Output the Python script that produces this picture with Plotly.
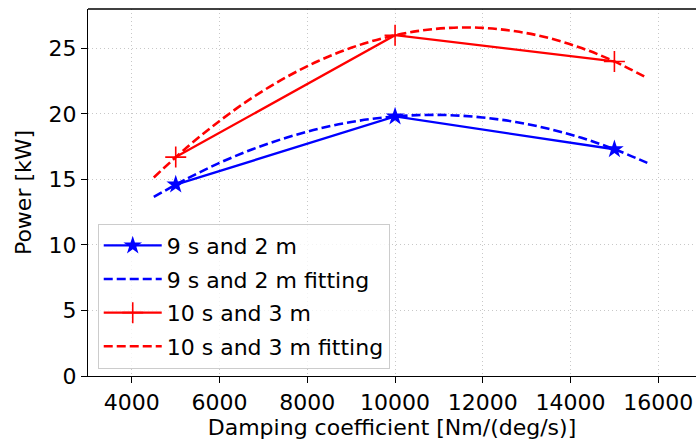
import plotly.graph_objects as go

# Measured points
damping = [5000, 10000, 15000]
power_9s2m = [14.6, 19.8, 17.3]
power_10s3m = [16.7, 26.0, 24.0]

# Fitted curves
fit_x = [4500, 5250, 6000, 6750, 7500, 8250, 9000, 9750, 10500, 11250,
         12000, 12750, 13500, 14250, 15000, 15750]
fit_9s2m = [13.66, 15.04, 16.26, 17.30, 18.16, 18.86, 19.38, 19.72, 19.90, 19.90,
            19.72, 19.38, 18.86, 18.17, 17.30, 16.26]
fit_10s3m = [15.15, 17.43, 19.46, 21.24, 22.76, 24.03, 25.04, 25.80, 26.31, 26.56,
             26.56, 26.30, 25.79, 25.02, 24.00, 22.73]

x_ticks = [4000, 6000, 8000, 10000, 12000, 14000, 16000]
x_tick_labels = ["4000", "6000", "8000", "10000", "12000", "14000", "16000"]
y_ticks = [0, 5, 10, 15, 20, 25]
y_tick_labels = ["0", "5", "10", "15", "20", "25"]

FONT = "DejaVu Sans"
FS = 22

fig = go.Figure()
fig.add_trace(go.Scatter(
    x=damping, y=power_9s2m, mode="lines+markers", name="9 s and 2 m",
    legendgroup="a",
    line=dict(color="blue", width=2.3),
    marker=dict(symbol="star", size=14, color="blue", line=dict(width=0)),
))
fig.add_trace(go.Scatter(
    x=fit_x, y=fit_9s2m, mode="lines", name="9 s and 2 m fitting",
    legendgroup="b",
    line=dict(color="blue", width=2.6, dash="9px,4px", shape="spline"),
))
fig.add_trace(go.Scatter(
    x=damping, y=power_10s3m, mode="lines+markers", name="10 s and 3 m",
    legendgroup="c",
    line=dict(color="red", width=2.3),
    marker=dict(symbol="cross-thin-open", size=15, color="red",
                line=dict(width=1.6, color="red")),
))
fig.add_trace(go.Scatter(
    x=fit_x, y=fit_10s3m, mode="lines", name="10 s and 3 m fitting",
    legendgroup="d",
    line=dict(color="red", width=2.6, dash="9px,4px", shape="spline"),
))

axis_common = dict(
    showline=True, linecolor="black", linewidth=1.3,
    ticks="outside", ticklen=6, tickwidth=1.3, tickcolor="black",
    showgrid=True, gridcolor="#c8c8c8", gridwidth=1, griddash="1px,3px",
    zeroline=False, automargin=False,
    tickfont=dict(family=FONT, size=FS, color="black"),
    title_font=dict(family=FONT, size=FS, color="black"),
)

fig.update_layout(
    width=696, height=445,
    margin=dict(l=88, r=0, t=9, b=69, autoexpand=False),
    paper_bgcolor="white", plot_bgcolor="white",
    font=dict(family=FONT, size=FS, color="black"),
    xaxis=dict(range=[3000, 16860], tickvals=x_ticks, ticktext=x_tick_labels,
               title=dict(text="Damping coefficient [Nm/(deg/s)]", standoff=6),
               **axis_common),
    yaxis=dict(range=[0, 28], tickvals=y_ticks, ticktext=y_tick_labels,
               title=dict(text="Power [kW]", standoff=10),
               **axis_common),
    legend=dict(x=0.016, y=0.02, xanchor="left", yanchor="bottom",
                bgcolor="rgba(255,255,255,0.8)", bordercolor="#cccccc", borderwidth=1,
                font=dict(family=FONT, size=FS, color="black"),
                itemwidth=58, traceorder="grouped", tracegroupgap=2),
    shapes=[dict(type="line", xref="paper", yref="paper", x0=0, x1=1, y0=1, y1=1,
                 line=dict(color="black", width=1.3))],
)

# Remove the default page margin so the figure fills the window exactly.
post = ("document.body.style.margin='0';"
        "document.body.style.overflow='hidden';"
        "document.documentElement.style.overflow='hidden';")
fig.write_html("out.html", post_script=post, config={"displayModeBar": False})
